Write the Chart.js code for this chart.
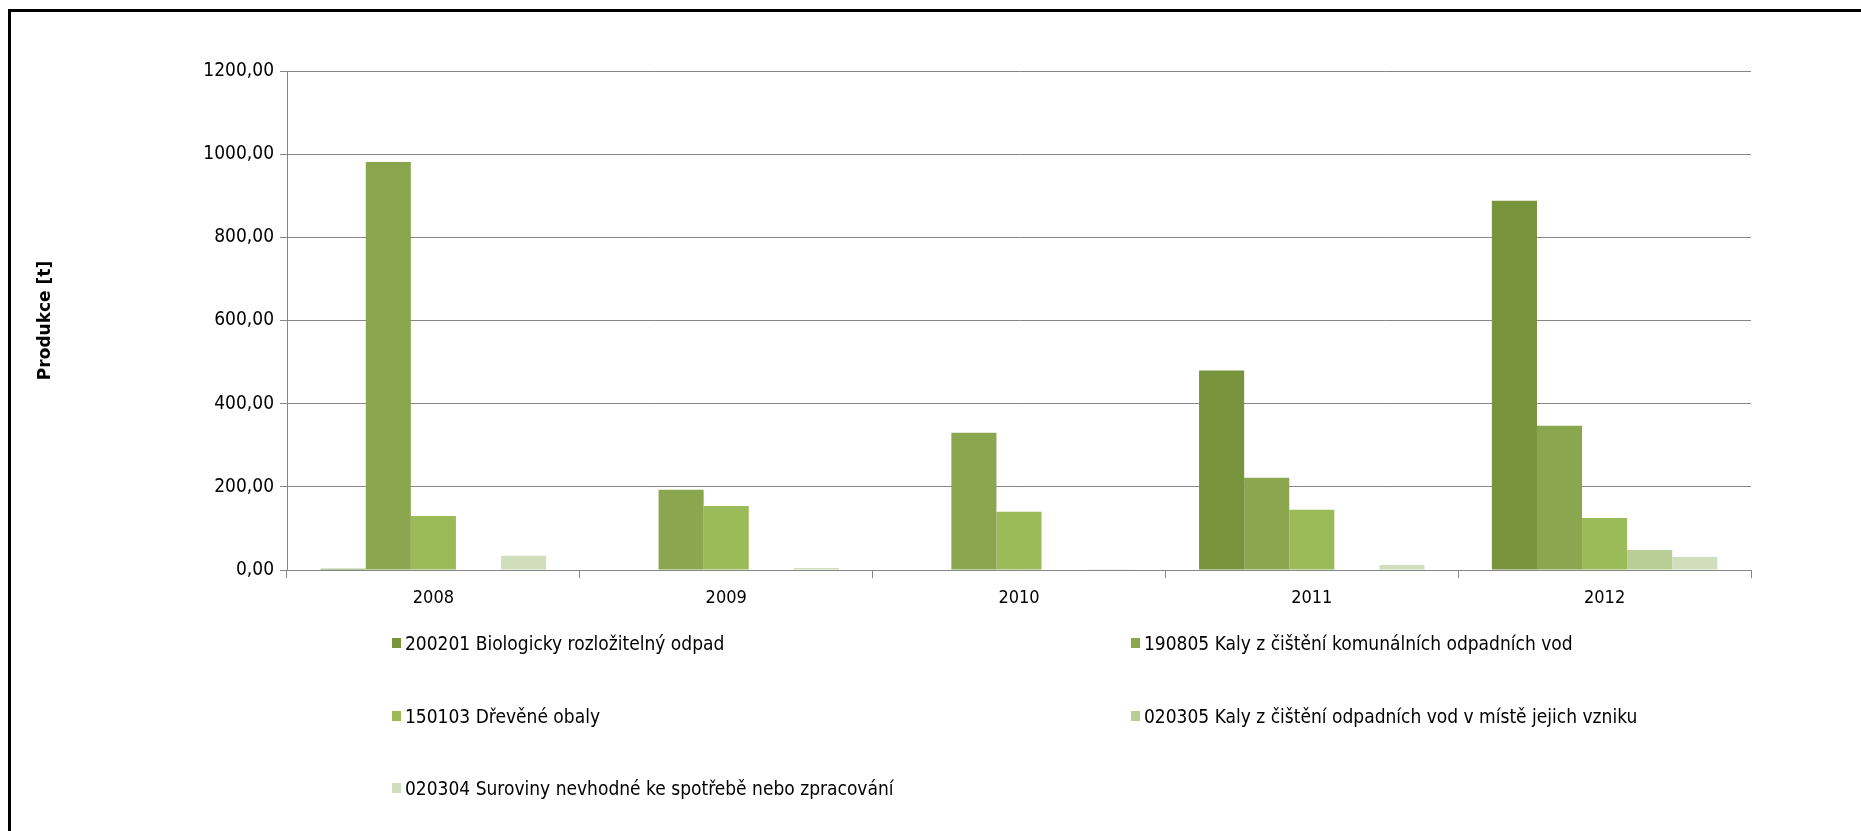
<!DOCTYPE html>
<html>
<head>
<meta charset="utf-8">
<script src="https://cdn.jsdelivr.net/npm/chart.js@4/dist/chart.umd.min.js"></script>
<style>
  html, body { margin: 0; padding: 0; background: #fff; }
  #wrap { position: relative; width: 1861px; height: 831px; overflow: hidden; }
  #frame { position: absolute; left: 8px; top: 9px; width: 1900px; height: 900px;
           border-left: 3px solid #000; border-top: 3px solid #000; }
  canvas { position: absolute; left: 0; top: 0; }
  #legend { position: absolute; left: 0; top: 0; width: 1861px; height: 831px; pointer-events: none;
            font-family: 'Liberation Sans Narrow', 'DejaVu Sans Condensed', sans-serif; font-size: 19px; color: #000; }
  .item { position: absolute; display: flex; align-items: center; white-space: nowrap; transform: translateY(-50%); }
  .box { width: 9px; height: 10px; margin-right: 4px; }
</style>
</head>
<body>
<div id="wrap">
  <canvas id="myChart" width="1861" height="831"></canvas>
  <div id="frame"></div>
  <div id="legend"></div>
</div>
<script>
const years = ['2008', '2009', '2010', '2011', '2012'];
const seriesNames = [
  '200201 Biologicky rozložitelný odpad',
  '190805 Kaly z čištění komunálních odpadních vod',
  '150103 Dřevěné obaly',
  '020305 Kaly z čištění odpadních vod v místě jejich vzniku',
  '020304 Suroviny nevhodné ke spotřebě nebo zpracování'
];
const bioOdpad = [3, 0, 0, 480, 888];
const kalyKomunalni = [981, 193, 330, 222, 347];
const drevObaly = [130, 154, 140, 145, 125];
const kalyVznik = [0, 0, 0, 0, 48];
const suroviny = [34, 5, 2, 12, 31];
const colors = ['#77933c', '#8aa64f', '#9bbb59', '#b9cd96', '#d1debe'];

const seriesValues = [bioOdpad, kalyKomunalni, drevObaly, kalyVznik, suroviny];
const narrow = "'Liberation Sans Narrow', 'DejaVu Sans Condensed', sans-serif";

let ctx = document.getElementById('myChart').getContext('2d');
let barChart = new Chart(ctx, {
  type: 'bar',
  data: {
    labels: years,
    datasets: seriesNames.map((name, i) => ({
      label: name,
      data: seriesValues[i],
      backgroundColor: colors[i],
      borderWidth: 0,
      barPercentage: 1.0,
      categoryPercentage: 0.77
    }))
  },
  options: {
    responsive: false,
    animation: false,
    layout: { padding: { top: 71, right: 110, left: 0, bottom: 0 } },
    plugins: {
      legend: { display: false },
      tooltip: { enabled: false }
    },
    scales: {
      x: {
        offset: true,
        grid: { offset: true, drawOnChartArea: false, drawTicks: true, tickLength: 8, color: '#868686' },
        border: { display: true, color: '#868686' },
        ticks: { color: '#000', padding: 10, font: { family: narrow, size: 18 } },
        afterFit: (scale) => { scale.height = 261; }
      },
      y: {
        min: 0,
        max: 1200,
        ticks: {
          stepSize: 200,
          color: '#000',
          padding: 6,
          font: { family: narrow, size: 19 },
          callback: (v) => v.toFixed(2).replace('.', ',')
        },
        grid: { color: '#868686', tickLength: 7 },
        border: { display: true, color: '#868686' },
        title: {
          display: true,
          text: 'Produkce [t]',
          color: '#000',
          padding: { top: 35, bottom: 0 },
          font: { family: 'DejaVu Sans', size: 17, weight: 'bold' }
        },
        afterFit: (scale) => { scale.width = 287; }
      }
    }
  }
});

// legend in two columns, like the original
const legendPos = [[392, 643], [1131, 643], [392, 716], [1131, 716], [392, 788]];
const legendEl = document.getElementById('legend');
barChart.data.datasets.forEach((ds, i) => {
  const item = document.createElement('div');
  item.className = 'item';
  item.style.left = legendPos[i][0] + 'px';
  item.style.top = legendPos[i][1] + 'px';
  const box = document.createElement('span');
  box.className = 'box';
  box.style.background = ds.backgroundColor;
  const txt = document.createElement('span');
  txt.textContent = ds.label;
  item.appendChild(box);
  item.appendChild(txt);
  legendEl.appendChild(item);
});
</script>
</body>
</html>
